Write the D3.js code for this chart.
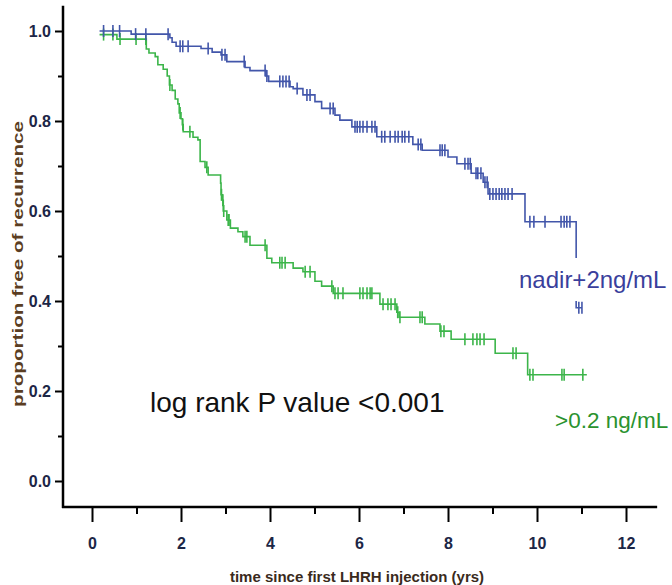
<!DOCTYPE html>
<html>
<head>
<meta charset="utf-8">
<script src="https://cdn.jsdelivr.net/npm/d3@7/dist/d3.min.js"></script>
<style>
  body { margin: 0; background: #fff; }
  svg { display: block; }
</style>
</head>
<body>
<div id="chart"></div>
<script>
// Kaplan-Meier curves, values
var xTicks = [0, 2, 4, 6, 8, 10, 12];
var yTicks = [0.0, 0.2, 0.4, 0.6, 0.8, 1.0];

// nadir+2ng/mL group (blue)
var blueStart = 0.17;
var blueTimes = [0.88, 1.75, 1.80, 1.89, 2.45, 2.70, 2.90, 3.03, 3.44, 3.55, 3.91, 3.97, 4.45, 4.52,
  4.74, 5.01, 5.16, 5.46, 5.57, 5.84, 6.40, 7.21, 7.42, 8.00, 8.20, 8.52, 8.79, 8.90, 9.73, 10.88];
var blueSurv = [0.993, 0.985, 0.975, 0.966, 0.961, 0.953, 0.947, 0.932, 0.919, 0.912, 0.900, 0.888, 0.876, 0.872,
  0.858, 0.843, 0.828, 0.813, 0.802, 0.787, 0.765, 0.748, 0.735, 0.720, 0.705, 0.684, 0.664, 0.638, 0.576, 0.385];
var blueCensor = [0.26, 0.47, 0.62, 0.98, 1.21, 1.71, 1.98, 2.04, 2.16, 2.61, 2.92, 2.99, 3.42, 3.89, 3.93,
  4.22, 4.29, 4.36, 4.43, 4.61, 4.83, 4.90, 5.35, 5.42, 5.91, 5.96, 6.02, 6.09, 6.18, 6.29, 6.36,
  6.51, 6.58, 6.70, 6.81, 6.88, 6.97, 7.03, 7.12, 7.33, 7.39, 7.82, 7.87, 7.93, 8.38, 8.45, 8.50,
  8.63, 8.67, 8.74, 8.83, 8.88, 8.94, 9.01, 9.08, 9.15, 9.21, 9.28, 9.35, 9.44,
  9.84, 9.93, 10.18, 10.54, 10.61, 10.67, 10.74, 10.94, 11.01];
var blueEnd = 11.01;

// >0.2 ng/mL group (green)
var greenStart = 0.17;
var greenStartSurv = 0.992;
var greenTimes = [0.56, 1.22, 1.28, 1.42, 1.48, 1.60, 1.69, 1.74, 1.80, 1.87, 1.93, 1.96, 2.00, 2.03, 2.05,
  2.27, 2.38, 2.43, 2.54, 2.61, 2.89, 2.90, 2.93, 2.95, 3.03, 3.11, 3.28, 3.39, 3.55, 3.93, 4.04,
  4.52, 4.74, 5.01, 5.16, 5.42, 6.47, 6.85, 6.90, 7.48, 7.82, 8.07, 9.06, 9.79];
var greenSurv = [0.982, 0.960, 0.951, 0.943, 0.925, 0.915, 0.900, 0.880, 0.868, 0.849, 0.838, 0.818, 0.805, 0.792, 0.776,
  0.764, 0.758, 0.710, 0.697, 0.680, 0.662, 0.636, 0.624, 0.600, 0.580, 0.562, 0.554, 0.543, 0.524, 0.495, 0.485,
  0.473, 0.465, 0.444, 0.433, 0.417, 0.393, 0.375, 0.364, 0.349, 0.333, 0.315, 0.284, 0.236];
var greenCensor = [0.26, 0.47, 0.63, 0.99, 1.21, 1.75, 1.98, 2.04, 2.20, 2.58, 2.91, 2.94, 2.96, 3.06, 3.08,
  3.44, 3.48, 3.89, 4.22, 4.27, 4.34, 4.79, 4.90, 5.39, 5.46, 5.53, 5.64, 6.02, 6.09, 6.18, 6.25, 6.29,
  6.54, 6.65, 6.72, 6.81, 6.87, 6.92, 7.37, 7.42, 7.84, 7.91, 8.38, 8.56, 8.65, 8.72, 8.81,
  9.46, 9.53, 9.84, 9.91, 10.56, 10.61, 11.03];
var greenEnd = 11.12;

var width = 672, height = 585;

var svg = d3.select('#chart').append('svg')
  .attr('width', width)
  .attr('height', height);

var x = d3.scaleLinear().domain([0, 12]).range([92, 626]);
var y = d3.scaleLinear().domain([0, 1]).range([481, 31]);

var axisColor = '#000';
var tickFont = '"Liberation Sans Narrow", "Liberation Sans", Arial, sans-serif';

// y axis
var yAxis = d3.axisLeft(y)
  .tickValues(yTicks)
  .tickSize(8)
  .tickSizeOuter(0)
  .tickFormat(d3.format('.1f'));
var gy = svg.append('g').attr('transform', 'translate(63,0)').call(yAxis);
gy.select('.domain').remove();
gy.selectAll('.tick line').attr('stroke', axisColor).attr('stroke-width', 2);
gy.selectAll('.tick text')
  .attr('x', -12)
  .attr('font-family', tickFont)
  .attr('font-weight', 'bold')
  .attr('font-size', 16)
  .attr('fill', '#1c2646');

var yMinor = d3.axisLeft(y).tickValues([0.1, 0.3, 0.5, 0.7, 0.9]).tickSize(5).tickFormat('');
var gym = svg.append('g').attr('transform', 'translate(63,0)').call(yMinor);
gym.select('.domain').remove();
gym.selectAll('.tick line').attr('stroke', axisColor).attr('stroke-width', 2);

// x axis
var xAxis = d3.axisBottom(x)
  .tickValues(xTicks)
  .tickSize(15)
  .tickSizeOuter(0)
  .tickFormat(d3.format('d'));
var gx = svg.append('g').attr('transform', 'translate(0,507)').call(xAxis);
gx.select('.domain').remove();
gx.selectAll('.tick line').attr('stroke', axisColor).attr('stroke-width', 2);
gx.selectAll('.tick text')
  .attr('y', 31)
  .attr('font-family', tickFont)
  .attr('font-weight', 'bold')
  .attr('font-size', 16)
  .attr('fill', '#1c2646');

var xMinor = d3.axisBottom(x).tickValues([1, 3, 5, 7, 9, 11]).tickSize(7).tickFormat('');
var gxm = svg.append('g').attr('transform', 'translate(0,507)').call(xMinor);
gxm.select('.domain').remove();
gxm.selectAll('.tick line').attr('stroke', axisColor).attr('stroke-width', 2);

// axis lines
svg.append('line')
  .attr('x1', 63).attr('x2', 63)
  .attr('y1', y(1.056)).attr('y2', 508)
  .attr('stroke', axisColor).attr('stroke-width', 2.5);
svg.append('line')
  .attr('x1', 62).attr('x2', x(12.7))
  .attr('y1', 507).attr('y2', 507)
  .attr('stroke', axisColor).attr('stroke-width', 2.5);

// axis titles
svg.append('text')
  .attr('transform', 'translate(23,264) rotate(-90)')
  .attr('text-anchor', 'middle')
  .attr('font-family', 'Liberation Sans, Arial, sans-serif')
  .attr('font-weight', 'bold')
  .attr('font-size', 14)
  .attr('fill', '#5a3d22')
  .attr('textLength', 286)
  .attr('lengthAdjust', 'spacingAndGlyphs')
  .text('proportion free of recurrence');

svg.append('text')
  .attr('x', 357).attr('y', 582)
  .attr('text-anchor', 'middle')
  .attr('font-family', tickFont)
  .attr('font-weight', 'bold')
  .attr('font-size', 15)
  .attr('fill', '#3a2a1c')
  .text('time since first LHRH injection (yrs)');

// step curve helpers
function stepPoints(start, startSurv, times, surv, end) {
  var pts = [[start, startSurv]];
  times.forEach(function(t, i) { pts.push([t, surv[i]]); });
  pts.push([end, surv[surv.length - 1]]);
  return pts;
}

function survAt(t, startSurv, times, surv) {
  var s = startSurv;
  for (var i = 0; i < times.length; i++) {
    if (times[i] <= t) s = surv[i];
  }
  return s;
}

var line = d3.line()
  .x(function(d) { return x(d[0]); })
  .y(function(d) { return y(d[1]); })
  .curve(d3.curveStepAfter);

function drawGroup(color, start, startSurv, times, surv, censor, end) {
  var g = svg.append('g');
  g.append('path')
    .datum(stepPoints(start, startSurv, times, surv, end))
    .attr('fill', 'none')
    .attr('stroke', color)
    .attr('stroke-width', 1.6)
    .attr('d', line);
  g.selectAll('line.censor')
    .data(censor)
    .enter().append('line')
    .attr('class', 'censor')
    .attr('x1', function(d) { return x(d); })
    .attr('x2', function(d) { return x(d); })
    .attr('y1', function(d) { return y(survAt(d, startSurv, times, surv)) - 6; })
    .attr('y2', function(d) { return y(survAt(d, startSurv, times, surv)) + 6; })
    .attr('stroke', color)
    .attr('stroke-width', 1.6);
}

drawGroup('#3cb54a', greenStart, greenStartSurv, greenTimes, greenSurv, greenCensor, greenEnd);
drawGroup('#4256aa', blueStart, 1.0, blueTimes, blueSurv, blueCensor, blueEnd);

// labels (white box hides the end of the blue drop, as in the original)
svg.append('rect')
  .attr('x', 516).attr('y', 258)
  .attr('width', 156).attr('height', 43)
  .attr('fill', '#fff');
svg.append('text')
  .attr('x', 519).attr('y', 288)
  .attr('font-family', 'Liberation Sans, Arial, sans-serif')
  .attr('font-size', 24)
  .attr('fill', '#3a3f9c')
  .text('nadir+2ng/mL');

svg.append('text')
  .attr('x', 555).attr('y', 428)
  .attr('font-family', 'Liberation Sans, Arial, sans-serif')
  .attr('font-size', 22.5)
  .attr('fill', '#2a922e')
  .text('>0.2 ng/mL');

svg.append('text')
  .attr('x', 150).attr('y', 412)
  .attr('font-family', 'Liberation Sans, Arial, sans-serif')
  .attr('font-size', 28)
  .attr('fill', '#111')
  .text('log rank P value <0.001');
</script>
</body>
</html>
